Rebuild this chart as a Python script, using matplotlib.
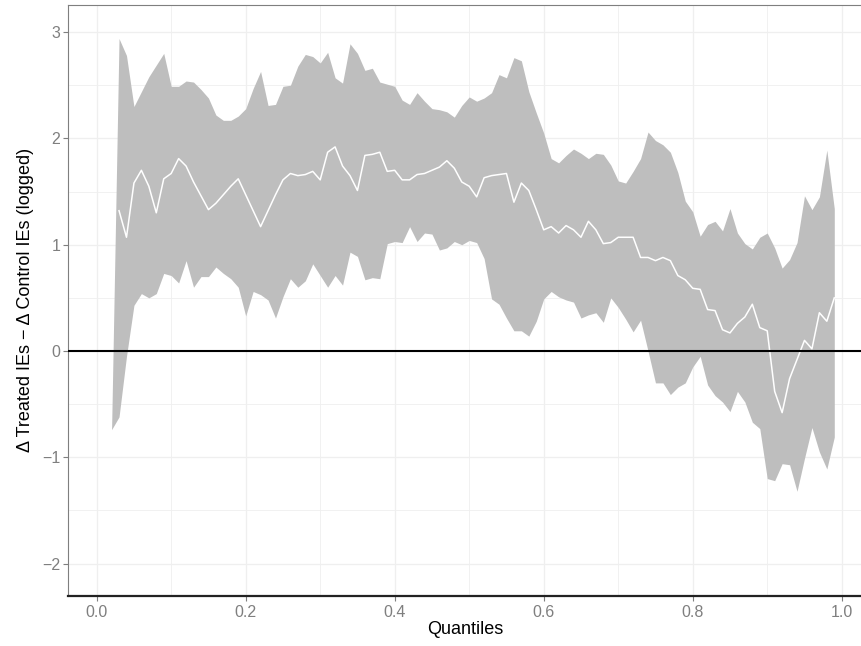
import numpy as np
import matplotlib
matplotlib.use("Agg")
import matplotlib.pyplot as plt

plt.rcParams['font.family'] = ['Liberation Sans', 'DejaVu Sans']

quantiles = np.round(np.arange(0.02, 0.995, 0.01), 2)

upper = [-0.74, 2.94, 2.78, 2.30, 2.44, 2.58, 2.69, 2.80, 2.49, 2.49,
         2.54, 2.53, 2.46, 2.38, 2.22, 2.17, 2.17, 2.21, 2.28, 2.47,
         2.63, 2.31, 2.32, 2.49, 2.50, 2.68, 2.79, 2.77, 2.71, 2.81,
         2.57, 2.52, 2.89, 2.80, 2.64, 2.66, 2.53, 2.51, 2.49, 2.36,
         2.32, 2.43, 2.35, 2.28, 2.27, 2.25, 2.20, 2.31, 2.39, 2.35,
         2.38, 2.43, 2.60, 2.57, 2.76, 2.73, 2.44, 2.24, 2.05, 1.81,
         1.77, 1.84, 1.90, 1.86, 1.81, 1.86, 1.85, 1.75, 1.60, 1.58,
         1.69, 1.81, 2.06, 1.98, 1.94, 1.87, 1.68, 1.41, 1.31, 1.08,
         1.19, 1.22, 1.13, 1.34, 1.11, 1.01, 0.96, 1.07, 1.11, 0.97,
         0.78, 0.86, 1.02, 1.46, 1.33, 1.45, 1.89, 1.34]

mean = [np.nan, 1.32, 1.07, 1.58, 1.70, 1.55, 1.30, 1.62, 1.67, 1.81,
        1.74, 1.59, 1.46, 1.33, 1.39, 1.47, 1.55, 1.62, 1.47, 1.32,
        1.17, 1.32, 1.47, 1.61, 1.67, 1.65, 1.66, 1.69, 1.61, 1.87,
        1.92, 1.74, 1.65, 1.51, 1.84, 1.85, 1.87, 1.69, 1.70, 1.61,
        1.61, 1.66, 1.67, 1.70, 1.73, 1.79, 1.72, 1.59, 1.55, 1.45,
        1.63, 1.65, 1.66, 1.67, 1.40, 1.58, 1.51, 1.33, 1.14, 1.17,
        1.11, 1.18, 1.14, 1.07, 1.22, 1.14, 1.01, 1.02, 1.07, 1.07,
        1.07, 0.88, 0.88, 0.85, 0.88, 0.85, 0.71, 0.67, 0.59, 0.58,
        0.39, 0.38, 0.20, 0.17, 0.26, 0.32, 0.44, 0.22, 0.19, -0.38,
        -0.58, -0.26, -0.08, 0.10, 0.02, 0.36, 0.28, 0.50]

lower = [-0.74, -0.62, -0.05, 0.43, 0.54, 0.50, 0.54, 0.73, 0.71, 0.64,
         0.85, 0.60, 0.70, 0.70, 0.79, 0.73, 0.68, 0.60, 0.33, 0.56,
         0.53, 0.48, 0.31, 0.51, 0.68, 0.60, 0.66, 0.82, 0.71, 0.60,
         0.71, 0.62, 0.93, 0.89, 0.67, 0.69, 0.68, 1.01, 1.03, 1.02,
         1.17, 1.03, 1.11, 1.10, 0.95, 0.97, 1.03, 1.00, 1.04, 1.02,
         0.87, 0.49, 0.44, 0.31, 0.19, 0.19, 0.14, 0.28, 0.49, 0.56,
         0.51, 0.48, 0.46, 0.31, 0.34, 0.36, 0.27, 0.50, 0.41, 0.30,
         0.18, 0.29, 0.00, -0.30, -0.30, -0.41, -0.34, -0.30, -0.15, -0.05,
         -0.32, -0.42, -0.48, -0.57, -0.38, -0.48, -0.67, -0.73, -1.20, -1.22,
         -1.06, -1.07, -1.32, -1.01, -0.72, -0.95, -1.11, -0.81]

x_ticks = [0.0, 0.2, 0.4, 0.6, 0.8, 1.0]
x_tick_labels = ["0.0", "0.2", "0.4", "0.6", "0.8", "1.0"]
y_ticks = [-2, -1, 0, 1, 2, 3]
y_tick_labels = ["\u22122", "\u22121", "0", "1", "2", "3"]

W, H = 862, 646
fig = plt.figure(figsize=(W / 100, H / 100), dpi=100)
ax = fig.add_axes([68 / W, (H - 595.7) / H, 1 - 68 / W, (595.7 - 5) / H])

ax.set_xlim(-0.0385, 1.0272)
ax.set_ylim(-2.302, 3.255)

grid_c = "#EFEFEF"
for v in [0.1, 0.3, 0.5, 0.7, 0.9]:
    ax.axvline(v, color=grid_c, lw=0.6, zorder=0)
for v in x_ticks:
    ax.axvline(v, color=grid_c, lw=0.9, zorder=0)
for v in [-1.5, -0.5, 0.5, 1.5, 2.5]:
    ax.axhline(v, color=grid_c, lw=0.6, zorder=0)
for v in y_ticks:
    ax.axhline(v, color=grid_c, lw=0.9, zorder=0)

ax.fill_between(quantiles, lower, upper, color="#BEBEBE", lw=0, zorder=2)
ax.plot(quantiles, mean, color="white", lw=1.1, zorder=3)
ax.axhline(0, color="black", lw=1.5, zorder=4)

ax.set_xticks(x_ticks)
ax.set_xticklabels(x_tick_labels)
ax.set_yticks(y_ticks)
ax.set_yticklabels(y_tick_labels)

ax.tick_params(axis="both", colors="#7F7F7F", labelsize=11.5, length=3.5, width=0.8)
ax.tick_params(axis="x", pad=3)
ax.tick_params(axis="y", pad=2)

for s in ["left", "top"]:
    ax.spines[s].set_color("#7F7F7F")
    ax.spines[s].set_linewidth(0.8)
ax.spines["right"].set_visible(False)
ax.spines["bottom"].set_color("#222222")
ax.spines["bottom"].set_linewidth(1.6)

ax.set_xlabel("Quantiles", fontsize=13, color="black", labelpad=1)
ax.set_ylabel("\u0394 Treated IEs \u2212 \u0394 Control IEs (logged)", fontsize=13,
              color="black", labelpad=6)

fig.savefig("out.png", dpi=100)
